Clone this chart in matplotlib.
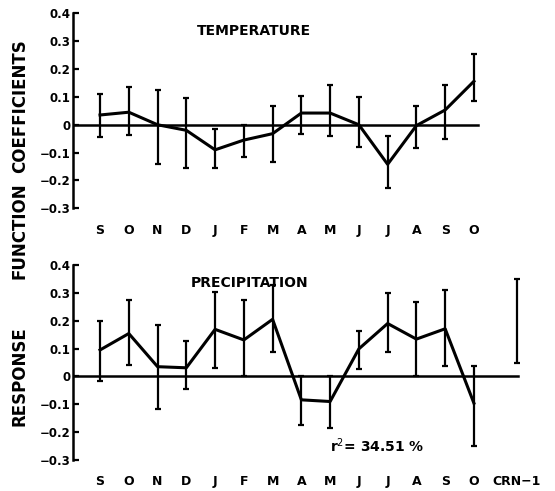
import numpy as np
from matplotlib import pyplot as plt

months = ["S", "O", "N", "D", "J", "F", "M", "A", "M", "J", "J", "A", "S", "O"]

# temperature response function (coefficient, upper, lower)
temp_coef = [0.035, 0.045, 0.0, -0.02, -0.09, -0.055, -0.032, 0.042, 0.042, 0.0, -0.142, -0.003, 0.053, 0.156]
temp_upper = [0.11, 0.135, 0.125, 0.095, -0.015, -0.002, 0.068, 0.102, 0.142, 0.1, -0.04, 0.069, 0.142, 0.255]
temp_lower = [-0.045, -0.035, -0.14, -0.155, -0.155, -0.117, -0.133, -0.032, -0.04, -0.081, -0.226, -0.082, -0.052, 0.084]

# precipitation response function
prec_coef = [0.095, 0.154, 0.035, 0.031, 0.169, 0.131, 0.205, -0.084, -0.09, 0.099, 0.19, 0.134, 0.171, -0.096]
prec_upper = [0.2, 0.273, 0.184, 0.128, 0.302, 0.274, 0.327, 0.0, 0.0, 0.164, 0.298, 0.268, 0.31, 0.036]
prec_lower = [-0.018, 0.042, -0.116, -0.045, 0.032, 0.0, 0.088, -0.173, -0.186, 0.026, 0.086, 0.0, 0.036, -0.25]

# prior ring width (CRN-1) - bar only
crn_upper = 0.35
crn_lower = 0.05

yticks = [0.4, 0.3, 0.2, 0.1, 0, -0.1, -0.2, -0.3]
ytick_labels = ["0.4", "0.3", "0.2", "0.1", "0", "\u22120.1", "\u22120.2", "\u22120.3"]

x = np.arange(len(months))
crn_x = len(months) + 0.5
xlim = (-0.94, 14.95)

fig = plt.figure(figsize=(5.55, 4.91), dpi=100)
ax_t = fig.add_axes([73 / 555, 0.5757, (530 - 73) / 555, 0.3972])
ax_p = fig.add_axes([73 / 555, 0.0631, (530 - 73) / 555, 0.3972])


def style(ax, labels, ticks):
    ax.set_xlim(*xlim)
    ax.set_ylim(-0.3, 0.4)
    for s in ["top", "right", "bottom"]:
        ax.spines[s].set_visible(False)
    ax.spines["left"].set_linewidth(1.8)
    ax.set_yticks(yticks)
    ax.set_yticklabels(ytick_labels, fontsize=8.5, fontweight="bold")
    ax.tick_params(axis="y", direction="in", length=4, width=1.6, pad=2)
    ax.set_xticks(ticks)
    ax.set_xticklabels(labels, fontsize=9, fontweight="bold")
    ax.tick_params(axis="x", length=0, pad=11)


def draw(ax, coef, upper, lower, zero_end):
    coef = np.array(coef)
    err = [coef - np.array(lower), np.array(upper) - coef]
    ax.plot([xlim[0], zero_end], [0, 0], color="black", lw=1.8, zorder=1)
    ax.errorbar(x, coef, yerr=err, fmt="none", ecolor="black", elinewidth=1.6,
                capsize=2.5, capthick=1.6, zorder=2)
    ax.plot(x, coef, color="black", lw=2.2, zorder=3)


draw(ax_t, temp_coef, temp_upper, temp_lower, x[-1] + 0.14)
style(ax_t, months, x)
ax_t.text(5.35, 0.335, "TEMPERATURE", fontsize=10, fontweight="bold", ha="center", va="center")

draw(ax_p, prec_coef, prec_upper, prec_lower, crn_x + 0.05)
ax_p.errorbar([crn_x], [(crn_upper + crn_lower) / 2], yerr=[[(crn_upper - crn_lower) / 2]],
              fmt="none", ecolor="black", elinewidth=1.6, capsize=2.5, capthick=1.6)
style(ax_p, months + ["CRN\u22121"], list(x) + [crn_x])
ax_p.text(5.2, 0.335, "PRECIPITATION", fontsize=10, fontweight="bold", ha="center", va="center")
ax_p.text(8.0, -0.25, "r$^{2}$= 34.51 %", fontsize=10, fontweight="bold", ha="left", va="center")

# y label split in three words, as in the original figure
for word, ypix in [("COEFFICIENTS", 106), ("FUNCTION", 231), ("RESPONSE", 376)]:
    fig.text(20 / 555, 1 - ypix / 491, word, rotation=90, fontsize=12,
             fontweight="bold", ha="center", va="center")

fig.savefig("out.png", dpi=100)
